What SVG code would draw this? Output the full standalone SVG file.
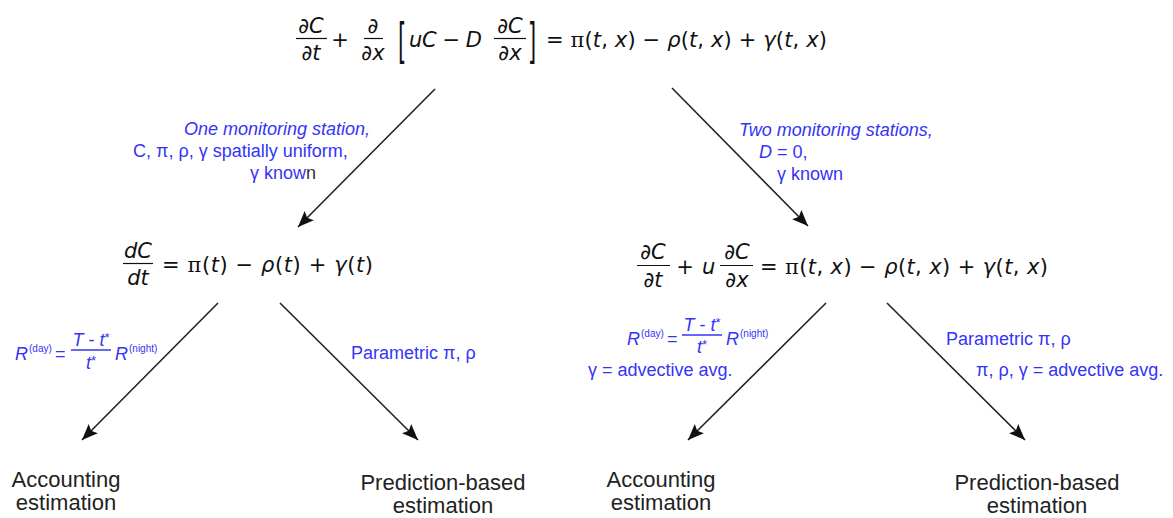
<svg xmlns="http://www.w3.org/2000/svg" width="1173" height="518" viewBox="0 0 1173 518">
<style>
.m{font-family:"DejaVu Sans",sans-serif;font-size:21px;fill:#111}
.i{font-style:italic}
.pi{font-family:"DejaVu Serif",serif;font-style:normal}
.bar{stroke:#111;stroke-width:1.2}
.b{font-family:"Liberation Sans",Arial,sans-serif;font-size:18px;fill:#3434f6}
.bi{font-style:italic}
.sup{font-size:10px}
.ast{font-size:13px}
.k{font-family:"Liberation Sans",Arial,sans-serif;font-size:22px;fill:#222;text-anchor:middle}
.c{text-anchor:middle}
.edge{stroke:#222;stroke-width:1.6;fill:none;marker-end:url(#ah)}
</style>
<defs>
<marker id="ah" markerUnits="userSpaceOnUse" markerWidth="18" markerHeight="14" refX="16" refY="6.5" orient="auto">
<path d="M0,0 L16,6.5 L0,13 L3,6.5 z" fill="#111"/>
</marker>
</defs>
<rect width="1173" height="518" fill="#fff"/>

<g id="connectors">
<line class="edge" x1="435" y1="89" x2="298" y2="227"/>
<line class="edge" x1="672" y1="88" x2="808" y2="226"/>
<line class="edge" x1="218" y1="303" x2="82" y2="440"/>
<line class="edge" x1="280" y1="303" x2="418" y2="440"/>
<line class="edge" x1="826" y1="303" x2="688" y2="440"/>
<line class="edge" x1="887" y1="303" x2="1025" y2="440"/>
</g>

<g id="eq-top">
<text class="m c" x="311" y="33">∂<tspan class="i">C</tspan></text>
<line class="bar" x1="296" y1="38.5" x2="327" y2="38.5"/>
<text class="m c" x="311" y="60">∂<tspan class="i">t</tspan></text>
<text class="m c" x="340" y="47">+</text>
<text class="m c" x="373" y="33">∂</text>
<line class="bar" x1="364" y1="38.5" x2="383" y2="38.5"/>
<text class="m c" x="373" y="60">∂<tspan class="i">x</tspan></text>
<text class="m" transform="translate(398,58) scale(1,2.3)">[</text>
<text class="m" x="409" y="47" textLength="73"><tspan class="i">uC</tspan> − <tspan class="i">D</tspan></text>
<text class="m c" x="510" y="33">∂<tspan class="i">C</tspan></text>
<line class="bar" x1="494" y1="38.5" x2="526" y2="38.5"/>
<text class="m c" x="510" y="60">∂<tspan class="i">x</tspan></text>
<text class="m" transform="translate(528,58) scale(1,2.3)">]</text>
<text class="m" x="546" y="47" textLength="281">= <tspan class="pi">π</tspan>(<tspan class="i">t</tspan>, <tspan class="i">x</tspan>) − <tspan class="i">ρ</tspan>(<tspan class="i">t</tspan>, <tspan class="i">x</tspan>) + <tspan class="i">γ</tspan>(<tspan class="i">t</tspan>, <tspan class="i">x</tspan>)</text>
</g>

<g id="eq-left">
<text class="m c i" x="138" y="258">dC</text>
<line class="bar" x1="123" y1="263.5" x2="153" y2="263.5"/>
<text class="m c i" x="138" y="285">dt</text>
<text class="m" x="162" y="272" textLength="211">= <tspan class="pi">π</tspan>(<tspan class="i">t</tspan>) − <tspan class="i">ρ</tspan>(<tspan class="i">t</tspan>) + <tspan class="i">γ</tspan>(<tspan class="i">t</tspan>)</text>
</g>

<g id="eq-right">
<text class="m c" x="653" y="259">∂<tspan class="i">C</tspan></text>
<line class="bar" x1="637" y1="265.5" x2="670" y2="265.5"/>
<text class="m c" x="653" y="287">∂<tspan class="i">t</tspan></text>
<text class="m c" x="685" y="274">+</text>
<text class="m i" x="702" y="274">u</text>
<text class="m c" x="737" y="259">∂<tspan class="i">C</tspan></text>
<line class="bar" x1="720" y1="265.5" x2="753" y2="265.5"/>
<text class="m c" x="737" y="287">∂<tspan class="i">x</tspan></text>
<text class="m" x="760" y="274" textLength="288">= <tspan class="pi">π</tspan>(<tspan class="i">t</tspan>, <tspan class="i">x</tspan>) − <tspan class="i">ρ</tspan>(<tspan class="i">t</tspan>, <tspan class="i">x</tspan>) + <tspan class="i">γ</tspan>(<tspan class="i">t</tspan>, <tspan class="i">x</tspan>)</text>
</g>

<g id="edge-labels">
<text class="b bi" x="184" y="135">One monitoring station,</text>
<text class="b" x="133" y="157">C, π, ρ, γ spatially uniform,</text>
<text class="b" x="250" y="179">γ know<tspan fill="#333">n</tspan></text>

<text class="b bi" x="739" y="136">Two monitoring stations,</text>
<text class="b" x="759" y="158"><tspan class="bi">D</tspan> = 0,</text>
<text class="b" x="777" y="180">γ known</text>

<g id="label-left-accounting">
<text class="b bi" x="15" y="360">R</text>
<text class="b sup" x="29" y="352">(day)</text>
<text class="b" x="55" y="360">=</text>
<text class="b c" x="91" y="346"><tspan class="bi">T</tspan> - <tspan class="bi">t</tspan><tspan class="ast" dy="-4">*</tspan></text>
<line x1="71" y1="350" x2="111" y2="350" stroke="#3434f6" stroke-width="1.3"/>
<text class="b c" x="91" y="369"><tspan class="bi">t</tspan><tspan class="ast" dy="-4">*</tspan></text>
<text class="b bi" x="115" y="360">R</text>
<text class="b sup" x="129" y="352">(night)</text>
</g>
<text class="b" x="351" y="359">Parametric π, ρ</text>

<g id="label-right-accounting">
<text class="b bi" x="627" y="345">R</text>
<text class="b sup" x="641" y="337">(day)</text>
<text class="b" x="667" y="345">=</text>
<text class="b c" x="702" y="331"><tspan class="bi">T</tspan> - <tspan class="bi">t</tspan><tspan class="ast" dy="-4">*</tspan></text>
<line x1="682" y1="335" x2="722" y2="335" stroke="#3434f6" stroke-width="1.3"/>
<text class="b c" x="702" y="353"><tspan class="bi">t</tspan><tspan class="ast" dy="-4">*</tspan></text>
<text class="b bi" x="726" y="345">R</text>
<text class="b sup" x="740" y="337">(night)</text>
<text class="b" x="588" y="376">γ = advective avg.</text>
</g>
<text class="b" x="946" y="345">Parametric π, ρ</text>
<text class="b" x="976" y="376">π, ρ, γ = advective avg.</text>
</g>

<g id="acc-left">
<text class="k" x="66" y="487">Accounting</text>
<text class="k" x="66" y="510">estimation</text>
</g>
<g id="pred-left">
<text class="k" x="443" y="490">Prediction-based</text>
<text class="k" x="443" y="513">estimation</text>
</g>
<g id="acc-right">
<text class="k" x="661" y="487">Accounting</text>
<text class="k" x="661" y="510">estimation</text>
</g>
<g id="pred-right">
<text class="k" x="1037" y="490">Prediction-based</text>
<text class="k" x="1037" y="513">estimation</text>
</g>
</svg>
